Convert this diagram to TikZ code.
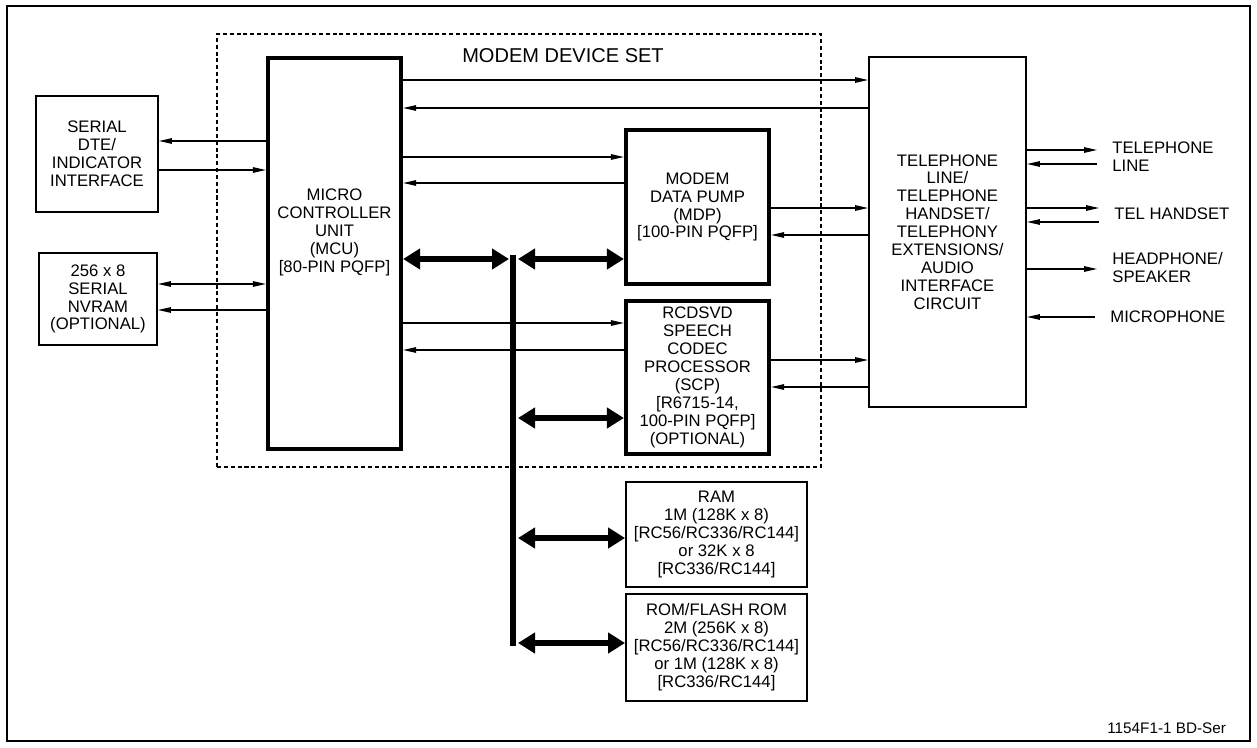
\documentclass[tikz,border=0pt]{standalone}
\usepackage{fontspec}
\setmainfont{Liberation Sans}
\usetikzlibrary{positioning, arrows.meta}

\begin{document}
\begin{tikzpicture}[
  x=0.02cm, y=-0.02cm,
  txt/.style={font=\fontsize{9.5}{10.2}\selectfont, align=center},
  thinbox/.style={draw, line width=1.1pt, txt, inner sep=0pt},
  thickbox/.style={draw, line width=2.4pt, txt, inner sep=0pt},
  sig/.style={line width=0.7pt, -{Triangle[length=0.26cm, width=0.11cm]}},
  sigboth/.style={line width=0.7pt, {Triangle[length=0.26cm, width=0.11cm]}-{Triangle[length=0.26cm, width=0.11cm]}},
  busarrow/.style={line width=3pt, {Triangle[length=0.34cm, width=0.4cm]}-{Triangle[length=0.34cm, width=0.4cm]}},
  busline/.style={line width=3.4pt},
  extlbl/.style={txt, align=left, anchor=west, inner sep=0pt}
]
  \useasboundingbox (0,0) rectangle (1257,747);
  \draw[line width=1.1pt] (7,6) rectangle (1250,741);

  \node[draw, dash pattern=on 2.3pt off 1.6pt, line width=1.2pt, minimum width=12.08cm, minimum height=8.66cm, inner sep=0pt] (devset) at (519,250.5) {};
  \node[font=\fontsize{11.4}{12}\selectfont] (devtitle) at (563,56) {MODEM DEVICE SET};

  \node[thinbox, minimum width=2.44cm, minimum height=2.32cm] (dte) at (97,154) {SERIAL\\DTE/\\INDICATOR\\INTERFACE};
  \node[thinbox, minimum width=2.36cm, minimum height=1.84cm] (nvram) at (98,299) {256 x 8\\SERIAL\\NVRAM\\(OPTIONAL)};
  \node[thickbox, minimum width=2.66cm, minimum height=7.82cm] (mcu) at (334.5,253.5) {};
  \node[txt] (mcutext) at (334.5,232.5) {MICRO\\CONTROLLER\\UNIT\\(MCU)\\{}[80-PIN PQFP]};
  \node[thickbox, minimum width=2.86cm, minimum height=3.08cm] (mdp) at (697.5,207) {MODEM\\DATA PUMP\\(MDP)\\{}[100-PIN PQFP]};
  \node[thickbox, minimum width=2.86cm, minimum height=3.06cm] (scp) at (697.5,377.5) {RCDSVD\\SPEECH\\CODEC\\PROCESSOR\\(SCP)\\{}[R6715-14,\\100-PIN PQFP]\\(OPTIONAL)};
  \node[thinbox, minimum width=3.62cm, minimum height=2.1cm] (ram) at (716.5,534.5) {RAM\\1M (128K x 8)\\{}[RC56/RC336/RC144]\\or 32K x 8\\{}[RC336/RC144]};
  \node[thinbox, minimum width=3.62cm, minimum height=2.14cm] (rom) at (716.5,647.5) {ROM/FLASH ROM\\2M (256K x 8)\\{}[RC56/RC336/RC144]\\or 1M (128K x 8)\\{}[RC336/RC144]};
  \node[thinbox, minimum width=3.14cm, minimum height=7.0cm] (tel) at (947.5,232) {TELEPHONE\\LINE/\\TELEPHONE\\HANDSET/\\TELEPHONY\\EXTENSIONS/\\AUDIO\\INTERFACE\\CIRCUIT};

  \node[extlbl] (telline) at (1112,157) {TELEPHONE\\LINE};
  \node[extlbl] (handset) at (1114,214) {TEL HANDSET};
  \node[extlbl] (speaker) at (1112,267.5) {HEADPHONE/\\SPEAKER};
  \node[extlbl] (mic) at (1110,317) {MICROPHONE};
  \node[font=\fontsize{8.7}{10}\selectfont, anchor=west, inner sep=0pt] (figid) at (1107,728) {1154F1-1 BD-Ser};

  \coordinate (bustop) at (513,255);
  \coordinate (busbot) at (513,646);
  \draw[busline] (bustop) -- (busbot);

  \draw[sig] (mcu.east |- 0,80) -- (tel.west |- 0,80);
  \draw[sig] (tel.west |- 0,108) -- (mcu.east |- 0,108);
  \draw[sig] (mcu.west |- 0,141) -- (dte.east |- 0,141);
  \draw[sig] (dte.east |- 0,170) -- (mcu.west |- 0,170);
  \draw[sigboth] (nvram.east |- 0,284) -- (mcu.west |- 0,284);
  \draw[sig] (mcu.west |- 0,310) -- (nvram.east |- 0,310);
  \draw[sig] (mcu.east |- 0,157) -- (mdp.west |- 0,157);
  \draw[sig] (mdp.west |- 0,183) -- (mcu.east |- 0,183);
  \draw[sig] (mcu.east |- 0,323) -- (scp.west |- 0,323);
  \draw[sig] (scp.west |- 0,350) -- (mcu.east |- 0,350);
  \draw[sig] (mdp.east |- 0,208) -- (tel.west |- 0,208);
  \draw[sig] (tel.west |- 0,235) -- (mdp.east |- 0,235);
  \draw[sig] (scp.east |- 0,360) -- (tel.west |- 0,360);
  \draw[sig] (tel.west |- 0,387) -- (scp.east |- 0,387);

  \draw[sig, shorten >=0.3cm] (tel.east |- 0,150) -- (telline.west |- 0,150);
  \draw[sig, shorten <=0.3cm] (telline.west |- 0,164) -- (tel.east |- 0,164);
  \draw[sig, shorten >=0.3cm] (tel.east |- 0,208) -- (handset.west |- 0,208);
  \draw[sig, shorten <=0.3cm] (handset.west |- 0,222) -- (tel.east |- 0,222);
  \draw[sig, shorten >=0.3cm] (tel.east |- 0,269) -- (speaker.west |- 0,269);
  \draw[sig, shorten <=0.3cm] (mic.west) -- (tel.east |- mic.west);

  \draw[busarrow, shorten >=0.08cm] (mcu.east |- 0,259) -- (bustop |- 0,259);
  \draw[busarrow, shorten <=0.1cm] (bustop |- 0,259) -- (mdp.west |- 0,259);
  \draw[busarrow, shorten <=0.1cm] (bustop |- 0,418) -- (scp.west |- 0,418);
  \draw[busarrow, shorten <=0.1cm] (bustop |- 0,538) -- (ram.west |- 0,538);
  \draw[busarrow, shorten <=0.1cm] (busbot |- 0,643) -- (rom.west |- 0,643);
\end{tikzpicture}
\end{document}
